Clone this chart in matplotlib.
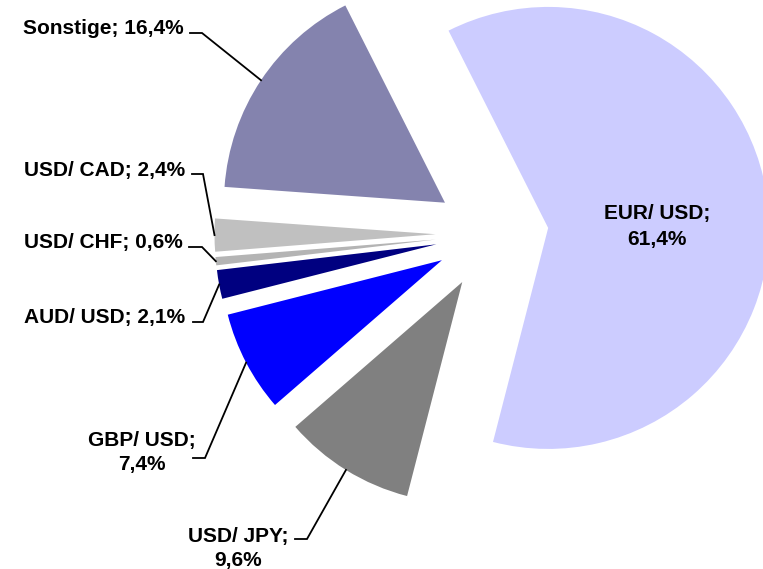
import numpy as np
import matplotlib
matplotlib.use("Agg")
import matplotlib.pyplot as plt

# ---- data ----
categories = ["EUR/ USD", "USD/ JPY", "GBP/ USD", "AUD/ USD", "USD/ CHF", "USD/ CAD", "Sonstige"]
shares = [61.4, 9.6, 7.4, 2.1, 0.6, 2.4, 16.4]
share_labels = ["61,4%", "9,6%", "7,4%", "2,1%", "0,6%", "2,4%", "16,4%"]

# ---- style ----
colors = ["#CCCCFF", "#808080", "#0000FF", "#000080", "#B4B4B4", "#C0C0C0", "#8483AE"]
W, H = 763, 569
center = (492, H - 234)
radius = 221
explode_px = 56.5

plt.rcParams["font.family"] = ["Liberation Sans", "DejaVu Sans"]
FS = 15

fig = plt.figure(figsize=(W / 100, H / 100), dpi=100)
ax = fig.add_axes([0, 0, 1, 1])
wedges, _ = ax.pie(shares, colors=colors, startangle=116.8, counterclock=False,
                   explode=[explode_px] * len(shares), radius=radius, center=center,
                   wedgeprops=dict(linewidth=0, antialiased=True))
ax.set_xlim(0, W)
ax.set_ylim(0, H)
ax.set_aspect("equal")
ax.axis("off")


def py(y):
    return H - y


def arc_mid(w):
    t = np.deg2rad((w.theta1 + w.theta2) / 2)
    cx, cy = w.center
    return cx + w.r * np.cos(t), cy + w.r * np.sin(t)


# label placements (pixel coords): text anchor x, last-line baseline y, ha, line spacing,
# leader start x, leader knee x, leader y
placements = {
    "EUR/ USD": (657, 245, "center", 1.45, None, None, None),
    "Sonstige": (184, 34, "right", 1.2, 190, 202, 33),
    "USD/ CAD": (185, 176, "right", 1.2, 192, 203, 174),
    "USD/ CHF": (183, 248, "right", 1.2, 189, 202, 247),
    "AUD/ USD": (185, 323, "right", 1.2, 193, 203, 322),
    "GBP/ USD": (142, 470, "center", 1.34, 193, 205, 458),
    "USD/ JPY": (238, 566, "center", 1.32, 295, 307, 539),
}

for w, cat, lab in zip(wedges, categories, share_labels):
    tx, ty, ha, ls, lx0, lx1, ly = placements[cat]
    if ha == "center":
        txt = f"{cat};\n{lab}"
    else:
        txt = f"{cat}; {lab}"
    ax.text(tx, py(ty), txt, ha=ha, va="baseline", fontsize=FS,
            fontweight="bold", linespacing=ls, multialignment="center", color="black")
    if lx0 is None:
        continue
    ex, ey = arc_mid(w)
    ax.plot([lx0, lx1, ex], [py(ly), py(ly), ey], color="black", lw=1.3,
            solid_joinstyle="miter")

fig.savefig("out.png", dpi=100)
